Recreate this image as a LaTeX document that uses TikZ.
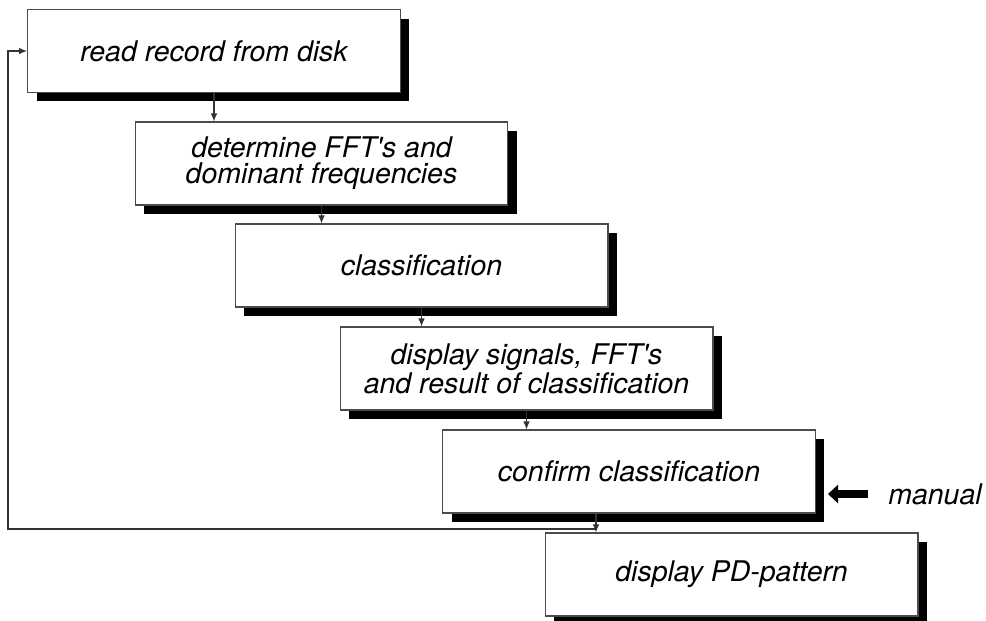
\documentclass[tikz,border=0pt]{standalone}
\usepackage{fontspec}
\setmainfont{TeX Gyre Heros}
\usetikzlibrary{positioning,arrows.meta,shadows}

\begin{document}
\begin{tikzpicture}[x=0.02cm,y=-0.02cm,
    stepbox/.style={draw=black!70,fill=white,line width=0.6pt,minimum width=7.46cm,minimum height=1.66cm,align=center,
      font=\fontsize{16.2}{14.8}\selectfont\itshape,
      drop shadow={shadow xshift=0.18cm,shadow yshift=-0.18cm,fill=black,opacity=1}},
    flow/.style={-{Latex[length=1.6mm,width=1.3mm]},black!80,line width=0.6pt}]
    \useasboundingbox (0,0) rectangle (986,621);
    \node[stepbox] (read) at (214,51) {read record from disk};
    \node[stepbox] (fft) at (321.5,163.5) {determine FFT\textquotesingle s and\\dominant frequencies};
    \node[stepbox] (class) at (421.5,265.5) {classification};
    \node[stepbox] (show) at (526.5,368.5) {display signals, FFT\textquotesingle s\\and result of classification};
    \node[stepbox] (confirm) at (629,471.5) {confirm classification};
    \node[stepbox] (pd) at (731.5,574.5) {display PD-pattern};
    \node[inner sep=0pt,anchor=west,font=\fontsize{16.2}{14.8}\selectfont\itshape] (manual) at (888,494) {manual};
    \coordinate (join) at (596,529);
    \coordinate (loop) at (8,529);
    \draw[flow] (read.south) -- (read.south |- fft.north);
    \draw[flow] (fft.south) -- (fft.south |- class.north);
    \draw[flow] (class.south) -- (class.south |- show.north);
    \draw[flow] (show.south) -- (show.south |- confirm.north);
    \draw[flow] (confirm.south -| join) -- (join |- pd.north);
    \draw[flow] (join) -- (loop) |- (read.west);
    \draw[-{Triangle[length=0.2cm,width=0.36cm]},line width=0.16cm,shorten <=0.4cm,shorten >=0.24cm] (manual.west) -- (confirm.east |- manual.west);
  \end{tikzpicture}
\end{document}
